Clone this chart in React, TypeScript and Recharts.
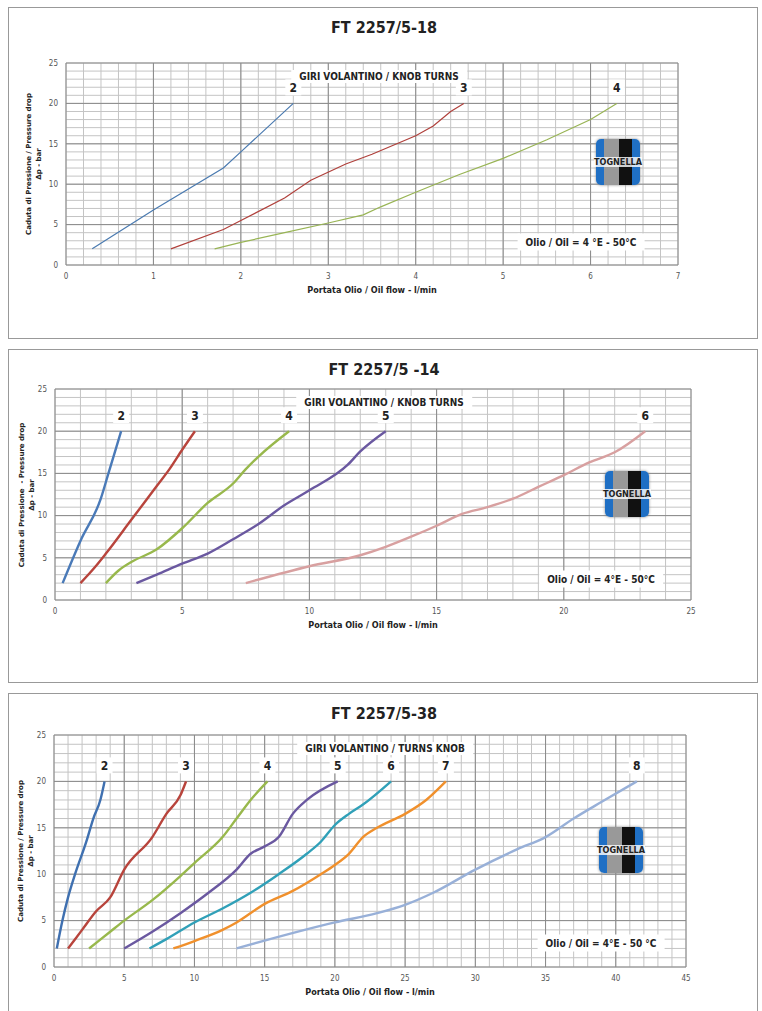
import React from "react";
import { LineChart, Line, XAxis, YAxis, CartesianGrid, ReferenceLine } from "recharts";

type Pt = { x: number; y: number };
const p = (arr: number[][]): Pt[] => arr.map(([x, y]) => ({ x, y }));

// FT 2257/5-18
const c1Turns = ["2", "3", "4"];
const c1Colors = ["#4a7ab0", "#b0403b", "#98b454"];
const c1Series = [
  p([[0.3, 2], [1, 6.8], [1.8, 12], [2, 14], [2.6, 20]]),
  p([[1.2, 2], [1.8, 4.4], [2, 5.5], [2.5, 8.3], [2.8, 10.5], [3.2, 12.5], [3.5, 13.7], [4, 16], [4.2, 17.2], [4.4, 19], [4.55, 20]]),
  p([[1.7, 2], [2, 2.8], [2.5, 4], [3, 5.2], [3.4, 6.2], [3.6, 7.2], [4, 9], [4.5, 11.2], [5, 13.2], [5.5, 15.5], [6, 18], [6.3, 20]]),
];

// FT 2257/5 -14
const c2Turns = ["2", "3", "4", "5", "6"];
const c2Colors = ["#4a7ab8", "#b8443c", "#98b84c", "#6a58a0", "#d8a0a0"];
const c2Series = [
  p([[0.3, 2], [1, 7], [1.8, 12], [2.1, 15], [2.6, 20]]),
  p([[1, 2], [1.6, 4], [2, 5.5], [3, 9.5], [4, 13.5], [4.5, 15.5], [5, 17.8], [5.5, 20]]),
  p([[2, 2], [2.5, 3.5], [3, 4.5], [4, 6], [5, 8.5], [6, 11.5], [7, 13.8], [7.5, 15.5], [8, 17], [9.2, 20]]),
  p([[3.2, 2], [4, 3], [5, 4.3], [6, 5.5], [7, 7.2], [8, 9], [9, 11.2], [10, 13], [11.5, 16], [12, 17.6], [13, 20]]),
  p([[7.5, 2], [10, 4], [12, 5.3], [13, 6.3], [14, 7.5], [15, 8.8], [16, 10.2], [17, 11], [18, 12], [19, 13.4], [20, 14.8], [21, 16.3], [22, 17.5], [23.2, 20]]),
];

// FT 2257/5-38
const c3Turns = ["2", "3", "4", "5", "6", "7", "8"];
const c3Colors = ["#3f70b0", "#b8443c", "#98b84c", "#6a58a0", "#30a0b8", "#f0902c", "#98b0d8"];
const c3Series = [
  p([[0.2, 2], [0.6, 5], [1, 7.5], [1.5, 10], [2.3, 13.5], [2.8, 16], [3.3, 18], [3.6, 20]]),
  p([[1, 2], [2, 4], [3, 6], [4, 7.5], [5, 10.5], [7, 14], [8, 16.5], [9, 18.5], [9.4, 20]]),
  p([[2.5, 2], [4, 3.8], [5, 5], [7, 7.2], [9, 9.8], [10, 11.2], [12, 14], [13, 16], [14, 18], [15.2, 20]]),
  p([[5, 2], [7, 3.8], [9, 5.8], [11, 8], [13, 10.5], [14, 12.2], [15, 13], [16, 14], [17, 16.5], [18, 18], [20.2, 20]]),
  p([[6.8, 2], [8, 3], [10, 4.8], [12, 6.3], [14, 8], [16, 10], [18, 12.2], [19, 13.5], [20, 15.3], [21, 16.5], [22, 17.5], [24, 20]]),
  p([[8.5, 2], [10, 2.8], [12, 4], [13, 4.8], [15, 6.8], [17, 8.2], [19, 10], [20, 11], [21, 12.2], [22, 14], [23, 15], [25, 16.5], [26.5, 18], [27.9, 20]]),
  p([[13, 2], [20, 4.8], [23, 5.8], [25, 6.7], [27, 8], [30, 10.5], [33, 12.7], [35, 14], [37, 16], [39, 17.8], [41.5, 20]]),
];

const range = (a: number, b: number, s: number) => {
  const out: number[] = [];
  for (let i = 0; a + i * s <= b + 1e-9; i++) out.push(Math.round((a + i * s) * 100) / 100);
  return out;
};

const font = "'Liberation Sans Narrow', 'DejaVu Sans Condensed', Arial, sans-serif";

interface PanelProps {
  title: string;
  top: number;
  height: number;
  plot: { l: number; r: number; t: number; b: number };
  xMax: number;
  xMinor: number;
  xMajor: number;
  series: Pt[][];
  colors: string[];
  turns: string[];
  width: number;
  curve: "linear" | "monotone";
  knob: string;
  yLabel: string;
  yLabelX: number;
  oil: string;
  oilPos: { x: number; y: number };
  logo: { x: number; y: number };
  knobX: number;
}

function Panel(pr: PanelProps) {
  const left = 8;
  const boxW = 750;
  const xTicks = range(0, pr.xMax, pr.xMinor);
  const yTicks = range(0, 25, 1);
  const yAxisW = 20;
  const xAxisH = 20;
  const margin = {
    top: pr.plot.t - pr.top,
    left: pr.plot.l - left - yAxisW,
    right: left + boxW - pr.plot.r,
    bottom: pr.top + pr.height - pr.plot.b - xAxisH,
  };
  const tickStyle = { fontSize: 8, fill: "#555", fontFamily: font };
  const label = (n: string, count: number) => (props: any) => {
    if (props.index !== count - 1) return null;
    return (
      <g>
        <rect x={props.x - 8} y={props.y - 24} width={16} height={16} fill="#fff" />
        <text x={props.x} y={props.y - 11} textAnchor="middle" fontSize={12} fontWeight="bold" fontFamily={font} fill="#222">
          {n}
        </text>
      </g>
    );
  };
  const rel = (x: number, y: number) => ({ left: x - left, top: y - pr.top });
  return (
    <div style={{ position: "absolute", left, top: pr.top, width: boxW, height: pr.height, border: "1px solid #999", boxSizing: "border-box", overflow: "hidden", fontFamily: font }}>
      <div style={{ position: "absolute", left: 0, width: boxW, top: 10, textAlign: "center", fontSize: 16, fontWeight: "bold", color: "#222" }}>{pr.title}</div>
      <LineChart width={boxW} height={pr.height} margin={margin} style={{ position: "absolute", left: 0, top: 0 }}>
        <CartesianGrid stroke="#c4c4c4" strokeWidth={1} />
        <XAxis type="number" dataKey="x" domain={[0, pr.xMax]} ticks={xTicks} interval={0} allowDuplicatedCategory={false}
          tickFormatter={(v: number) => (Math.abs(v / pr.xMajor - Math.round(v / pr.xMajor)) < 1e-6 ? String(v) : "")}
          tick={tickStyle} tickLine={false} axisLine={{ stroke: "#888" }} height={xAxisH} />
        <YAxis type="number" domain={[0, 25]} ticks={yTicks} interval={0} tickFormatter={(v: number) => (v % 5 === 0 ? String(v) : "")}
          tick={tickStyle} tickLine={false} axisLine={{ stroke: "#888" }} width={yAxisW} />
        {range(pr.xMajor, pr.xMax, pr.xMajor).map((v) => (
          <ReferenceLine key={"x" + v} x={v} stroke="#8a8a8a" />
        ))}
        {[5, 10, 15, 20, 25].map((v) => (
          <ReferenceLine key={"y" + v} y={v} stroke="#8a8a8a" />
        ))}
        {pr.series.map((s, i) => (
          <Line key={i} data={s} dataKey="y" type={pr.curve} stroke={pr.colors[i]} strokeWidth={pr.width} dot={false}
            isAnimationActive={false} label={label(pr.turns[i], s.length)} />
        ))}
      </LineChart>
      <div style={{ position: "absolute", ...rel(pr.knobX, pr.plot.t + 7), transform: "translateX(-50%)", background: "#fff", padding: "1px 8px", fontSize: 10, fontWeight: "bold", color: "#222", whiteSpace: "nowrap" }}>{pr.knob}</div>
      <div style={{ position: "absolute", ...rel(pr.oilPos.x, pr.oilPos.y), transform: "translate(-50%,-50%)", background: "#fff", padding: "3px 8px", fontSize: 10, fontWeight: "bold", color: "#222", whiteSpace: "nowrap" }}>{pr.oil}</div>
      <div style={{ position: "absolute", ...rel(pr.logo.x, pr.logo.y), width: 44, height: 46, borderRadius: 5, background: "linear-gradient(90deg,#1f6fc4 0 18%,#999 18% 52%,#111 52% 82%,#1f6fc4 82%)", boxShadow: "0 0 3px #888", display: "flex", alignItems: "center", justifyContent: "center" }}>
        <span style={{ background: "rgba(255,255,255,0.8)", fontSize: 9, fontWeight: "bold", color: "#222" }}>TOGNELLA</span>
      </div>
      <div style={{ position: "absolute", left: pr.yLabelX - left, top: (pr.plot.t + pr.plot.b) / 2 - pr.top, width: 0, height: 0 }}>
        <div style={{ position: "absolute", transform: "translate(-50%,-50%) rotate(-90deg)", fontSize: 7, fontWeight: "bold", fontFamily: "'DejaVu Sans', sans-serif", color: "#222", textAlign: "center", whiteSpace: "pre", lineHeight: "10px" }}>{pr.yLabel}</div>
      </div>
      <div style={{ position: "absolute", left: 0, width: (pr.plot.l + pr.plot.r) / 2 * 2 - 2 * left, top: pr.plot.b - pr.top + 20, textAlign: "center", fontSize: 9, fontWeight: "bold", color: "#222" }}>Portata Olio / Oil flow -  l/min</div>
    </div>
  );
}

export default function App() {
  return (
    <div style={{ position: "absolute", left: 0, top: 0, width: 762, height: 1011, background: "#fff", overflow: "hidden" }}>
      <Panel title="FT 2257/5-18" top={7} height={332} plot={{ l: 65, r: 677, t: 62, b: 264 }} xMax={7} xMinor={0.2} xMajor={1}
        series={c1Series} colors={c1Colors} turns={c1Turns} width={1.2} curve="linear" knob="GIRI VOLANTINO / KNOB TURNS"
        yLabel={"Caduta di Pressione / Pressure drop\nΔp - bar"} yLabelX={33} oil="Olio / Oil = 4 °E - 50°C" oilPos={{ x: 580, y: 241 }}
        logo={{ x: 595, y: 138 }} knobX={378} />
      <Panel title="FT 2257/5 -14" top={349} height={334} plot={{ l: 54, r: 690, t: 388, b: 599 }} xMax={25} xMinor={1} xMajor={5}
        series={c2Series} colors={c2Colors} turns={c2Turns} width={2.4} curve="monotone" knob="GIRI VOLANTINO / KNOB TURNS"
        yLabel={"Caduta di Pressione  - Pressure drop\nΔp - bar"} yLabelX={26} oil="Olio / Oil = 4°E  - 50°C" oilPos={{ x: 600, y: 578 }}
        logo={{ x: 604, y: 470 }} knobX={383} />
      <Panel title="FT 2257/5-38" top={693} height={330} plot={{ l: 53, r: 685, t: 734, b: 966 }} xMax={45} xMinor={1} xMajor={5}
        series={c3Series} colors={c3Colors} turns={c3Turns} width={2.4} curve="monotone" knob="GIRI VOLANTINO / TURNS KNOB"
        yLabel={"Caduta di Pressione / Pressure drop\nΔp - bar"} yLabelX={25} oil="Olio / Oil = 4°E - 50 °C" oilPos={{ x: 600, y: 942 }}
        logo={{ x: 598, y: 826 }} knobX={384} />
    </div>
  );
}
